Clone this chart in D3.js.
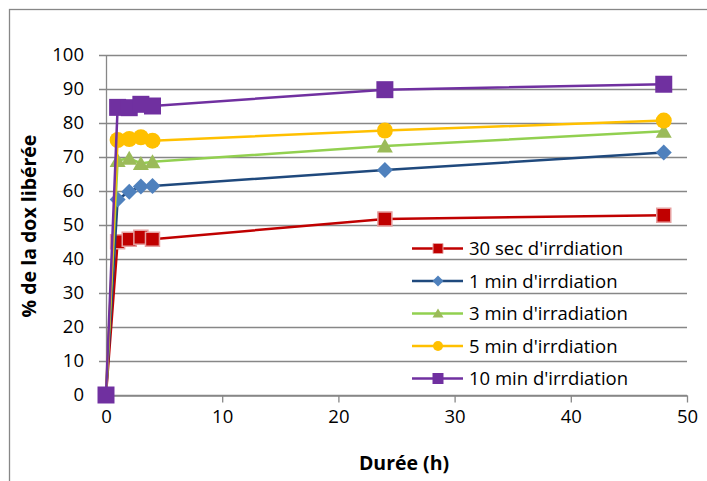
<!DOCTYPE html>
<html><head><meta charset="utf-8">
<script src="https://cdn.jsdelivr.net/npm/d3@7"></script>
<style>body{margin:0;background:#fff}svg{display:block}text{font-family:"Open Sans",Lato,sans-serif}</style>
</head><body><svg id="c" width="707" height="481"></svg>
<script>
const hours = [0, 1, 2, 3, 4, 24, 48];
const sec30 = [0, 45.1, 45.8, 46.4, 45.8, 51.8, 52.9];
const min1 = [0, 57.5, 59.8, 61.3, 61.5, 66.2, 71.3];
const min3 = [0, 69.0, 69.6, 68.1, 68.6, 73.2, 77.6];
const min5 = [0, 75.0, 75.3, 75.8, 74.8, 77.8, 80.7];
const min10 = [0, 84.6, 84.5, 85.5, 85.0, 89.8, 91.4];
const seriesNames = ["30 sec d'irrdiation", "1 min d'irrdiation", "3 min d'irradiation", "5 min d'irrdiation", "10 min d'irrdiation"];
const xTicks = [0, 10, 20, 30, 40, 50];
const yTicks = [0, 10, 20, 30, 40, 50, 60, 70, 80, 90, 100];

const styles = [
  {line: "#C00000", fill: "#C00000", stroke: "#E6A0A0", shape: "square", size: 14, lsize: 10},
  {line: "#1F497D", fill: "#4F81BD", stroke: "none", shape: "diamond", size: 16, lsize: 11},
  {line: "#92D050", fill: "#9BBB59", stroke: "none", shape: "triangle", size: 16, lsize: 11},
  {line: "#FFC000", fill: "#FFC000", stroke: "none", shape: "circle", size: 16, lsize: 10},
  {line: "#7030A0", fill: "#7030A0", stroke: "none", shape: "square", size: 17, lsize: 11}
];
const data = [sec30, min1, min3, min5, min10];

const svg = d3.select("#c");
const grey = "#878787";
const FS = 18.5;
const TFS = 19.5;
svg.append("rect").attr("x", 9.5).attr("y", 9.5).attr("width", 720).attr("height", 500)
  .attr("fill", "none").attr("stroke", grey).attr("stroke-width", 1.3);

const x = d3.scaleLinear().domain([0, 50]).range([106, 687]);
const y = d3.scaleLinear().domain([0, 100]).range([395, 55]);

// gridlines
svg.append("g").selectAll("line").data(yTicks).join("line")
  .attr("x1", 99).attr("x2", 687).attr("y1", d => y(d) + 0.5).attr("y2", d => y(d) + 0.5)
  .attr("stroke", grey).attr("stroke-width", 1.3);
// y axis line
svg.append("line").attr("x1", 106.5).attr("x2", 106.5).attr("y1", 55).attr("y2", 395)
  .attr("stroke", grey).attr("stroke-width", 1.3);

// x axis
const xAxis = svg.append("g").attr("transform", "translate(0,395.5)")
  .call(d3.axisBottom(x).tickValues(xTicks).tickSize(7).tickSizeOuter(0).tickPadding(7));
xAxis.select(".domain").attr("stroke", grey).attr("stroke-width", 1.3);
xAxis.selectAll(".tick line").attr("stroke", grey).attr("stroke-width", 1.3);
xAxis.selectAll("text").attr("font-size", FS).attr("fill", "#000").attr("font-family", "Open Sans");

// y labels
svg.append("g").selectAll("text").data(yTicks).join("text")
  .attr("x", 84).attr("y", d => y(d)).attr("dy", "0.35em").attr("text-anchor", "end")
  .attr("font-size", FS).text(d => d);

function symbolPath(shape, s) {
  const h = s / 2;
  if (shape === "square") return `M${-h},${-h}h${s}v${s}h${-s}Z`;
  if (shape === "diamond") return `M0,${-h}L${h},0L0,${h}L${-h},0Z`;
  if (shape === "triangle") return `M0,${-h + 0.5}L${h},${h - 1.5}L${-h},${h - 1.5}Z`;
  return d3.symbol(d3.symbolCircle, Math.PI * h * h)();
}

const line = d3.line().x(d => x(d[0])).y(d => y(d[1]));
data.forEach((vals, i) => {
  const st = styles[i];
  const pts = hours.map((h, j) => [h, vals[j]]);
  const g = svg.append("g");
  g.append("path").attr("d", line(pts)).attr("fill", "none").attr("stroke", st.line).attr("stroke-width", 2.5);
  g.selectAll("path.m").data(pts).join("path").attr("class", "m")
    .attr("transform", d => `translate(${x(d[0])},${y(d[1])})`)
    .attr("d", symbolPath(st.shape, st.size))
    .attr("fill", st.fill).attr("stroke", st.stroke).attr("stroke-width", 1.5);
});

// legend
const lg = svg.append("g");
seriesNames.forEach((name, i) => {
  const st = styles[i];
  const ly = 248.5 + i * 32.5;
  lg.append("line").attr("x1", 412).attr("x2", 463).attr("y1", ly).attr("y2", ly)
    .attr("stroke", st.line).attr("stroke-width", 2.5);
  lg.append("path").attr("transform", `translate(438,${ly})`).attr("d", symbolPath(st.shape, st.lsize))
    .attr("fill", st.fill).attr("stroke", st.stroke).attr("stroke-width", 1);
  lg.append("text").attr("x", 469).attr("y", ly).attr("dy", "0.36em").attr("font-size", FS).text(name);
});

// titles
svg.append("text").attr("x", 404).attr("y", 463).attr("dy", "0.35em").attr("text-anchor", "middle")
  .attr("font-size", TFS).attr("font-weight", "bold").text("Durée (h)");
svg.append("text").attr("transform", "translate(29,226) rotate(-90)").attr("dy", "0.35em")
  .attr("text-anchor", "middle").attr("font-size", TFS).attr("font-weight", "bold").text("% de la dox libérée");
</script></body></html>
